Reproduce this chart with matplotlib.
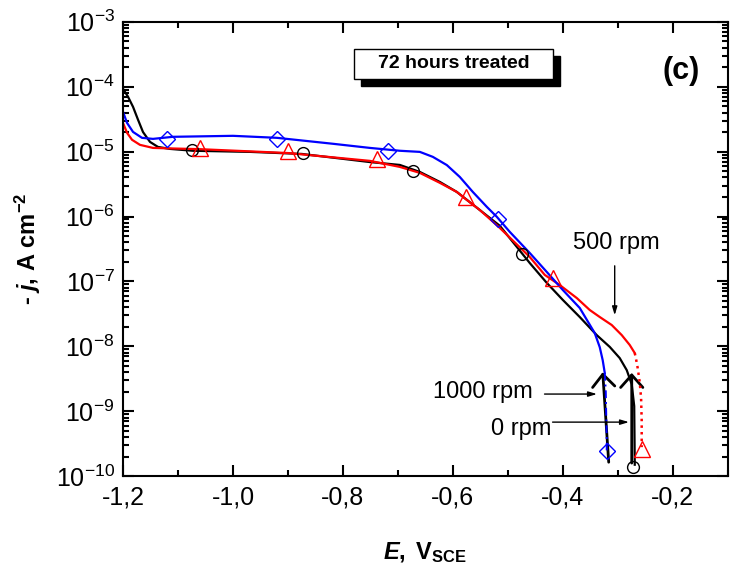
import numpy as np
import matplotlib
matplotlib.use('Agg')
import matplotlib.pyplot as plt
from matplotlib.patches import Rectangle, FancyArrowPatch
from matplotlib.ticker import MultipleLocator, LogLocator, FuncFormatter, NullFormatter

plt.rcParams['font.family'] = ['Liberation Sans', 'DejaVu Sans']
plt.rcParams['mathtext.fontset'] = 'custom'
plt.rcParams['mathtext.rm'] = 'Liberation Sans'
plt.rcParams['mathtext.it'] = 'Liberation Sans:italic'
plt.rcParams['mathtext.bf'] = 'Liberation Sans:bold'
plt.rcParams['mathtext.bfit'] = 'Liberation Sans:italic:bold'

# 0 rpm (black, circles)
E_0 = [-1.2, -1.1909, -1.1818, -1.1727, -1.1636, -1.1509, -1.1364, -1.1145, -1.0727, -0.969,
       -0.8745, -0.7509, -0.6964, -0.66, -0.6236, -0.5927, -0.5145, -0.46, -0.4291, -0.4,
       -0.3691, -0.3382, -0.3145, -0.2964, -0.2836, -0.2745, -0.2700, -0.2690]
j_0 = [9.3e-5, 7.0e-5, 4.9e-5, 3.1e-5, 2.0e-5, 1.41e-5, 1.18e-5, 1.10e-5, 1.03e-5, 9.9e-6,
       9.2e-6, 6.9e-6, 6.23e-6, 4.86e-6, 3.41e-6, 2.39e-6, 7.2e-7, 1.92e-7, 9.5e-8, 5.2e-8,
       2.83e-8, 1.49e-8, 9.8e-9, 6.6e-9, 4.3e-9, 2.6e-9, 1.2e-9, 1.5e-10]
E_0m = [-1.0745, -0.8727, -0.6727, -0.4745, -0.2727]
j_0m = [1.04e-5, 9.4e-6, 5.1e-6, 2.65e-7, 1.38e-10]

# 500 rpm (red, triangles)
E_500 = [-1.2, -1.1927, -1.1836, -1.1691, -1.1455, -1.1145, -1.06, -0.9, -0.7509, -0.6964,
         -0.66, -0.6236, -0.5927, -0.5745, -0.5509, -0.5145, -0.46, -0.4327, -0.4055, -0.3745,
         -0.3509, -0.3327, -0.3109, -0.2927, -0.2782, -0.2691]
j_500 = [2.77e-5, 1.95e-5, 1.52e-5, 1.27e-5, 1.14e-5, 1.12e-5, 1.09e-5, 9.5e-6, 7.2e-6, 5.81e-6,
         4.70e-6, 3.30e-6, 2.39e-6, 1.80e-6, 1.26e-6, 6.67e-7, 2.38e-7, 1.26e-7, 8.8e-8, 5.55e-8,
         3.63e-8, 2.83e-8, 2.13e-8, 1.49e-8, 1.05e-8, 7.9e-9]
E_500t = [-0.2691, -0.2673, -0.2636, -0.2600, -0.2575, -0.2564, -0.2564]
j_500t = [7.9e-9, 6.8e-9, 4.6e-9, 2.8e-9, 1.6e-9, 7.3e-10, 2.8e-10]
E_500m = [-1.06, -0.9, -0.7382, -0.5764, -0.4182, -0.2564]
j_500m = [1.14e-5, 1.02e-5, 7.6e-6, 2.0e-6, 1.13e-7, 2.6e-10]

# 1000 rpm (blue, diamonds)
E_1000 = [-1.2, -1.1927, -1.1818, -1.1655, -1.1455, -1.1091, -1.0, -0.92, -0.8182, -0.7509,
          -0.6964, -0.66, -0.6364, -0.6109, -0.5873, -0.5636, -0.5382, -0.52, -0.4964, -0.46,
          -0.4291, -0.4, -0.3691, -0.3418, -0.3327, -0.3273, -0.3236]
j_1000 = [4.1e-5, 2.77e-5, 2.01e-5, 1.63e-5, 1.57e-5, 1.69e-5, 1.75e-5, 1.63e-5, 1.32e-5, 1.14e-5,
          1.03e-5, 9.9e-6, 8.3e-6, 6.2e-6, 4.07e-6, 2.39e-6, 1.41e-6, 9.9e-7, 5.8e-7, 2.74e-7,
          1.40e-7, 7.4e-8, 3.9e-8, 1.60e-8, 9.7e-9, 6.1e-9, 3.9e-9]
E_1000t = [-0.3236, -0.3218, -0.32, -0.32]
j_1000t = [3.9e-9, 2.1e-9, 3.6e-10, 2.5e-10]
E_1000m = [-1.12, -0.92, -0.7182, -0.5182, -0.32]
j_1000m = [1.57e-5, 1.57e-5, 1.03e-5, 9.0e-7, 2.4e-10]

fig = plt.figure(figsize=(7.41, 5.73), dpi=100)
ax = fig.add_axes([0.166, 0.169, 0.816, 0.793])

ax.plot(E_0, j_0, color='black', lw=1.6)
ax.plot(E_500, j_500, color='red', lw=1.6)
ax.plot(E_500t, j_500t, color='red', lw=1.8, ls=':')
ax.plot(E_1000, j_1000, color='blue', lw=1.6)
ax.plot(E_1000t, j_1000t, color='blue', lw=1.4, ls=(0, (4, 2, 1, 2)))

ax.plot(E_0m, j_0m, 'o', mfc='none', mec='black', ms=8.5, mew=1)
ax.plot(E_500m, j_500m, '^', mfc='none', mec='red', ms=11, mew=1)
ax.plot(E_1000m, j_1000m, 'D', mfc='none', mec='blue', ms=8, mew=1)

ax.set_yscale('log')
ax.set_ylim(1e-10, 1e-3)
ax.set_xlim(-1.2, -0.1)
ax.yaxis.set_major_locator(LogLocator(base=10, numticks=20))
ax.yaxis.set_minor_locator(LogLocator(base=10, subs=np.arange(2, 10), numticks=20))
ax.yaxis.set_minor_formatter(NullFormatter())
ax.set_xticks([-1.2, -1.0, -0.8, -0.6, -0.4, -0.2])
ax.xaxis.set_minor_locator(MultipleLocator(0.1))
ax.xaxis.set_major_formatter(FuncFormatter(lambda v, p: f'{v:.1f}'.replace('.', ',')))

ax.tick_params(which='both', direction='in', top=True, right=True, width=1.5, labelsize=18)
ax.tick_params(which='major', length=8)
ax.tick_params(which='minor', length=4)
ax.tick_params(axis='y', pad=6)
ax.tick_params(axis='x', pad=7)
for s in ax.spines.values():
    s.set_linewidth(1.5)

ax.set_xlabel(r'$\mathbfit{E}\mathbf{,\ V_{SCE}}$', fontsize=17)
ax.xaxis.set_label_coords(0.5, -0.14)
ax.set_ylabel(r'- $\mathbfit{j}$, A $\mathbf{cm^{-2}}$', fontsize=17, fontweight='bold')
ax.yaxis.set_label_coords(-0.132, 0.5)

# title box with shadow
ax.add_patch(Rectangle((0.3934, 0.859), 0.3289, 0.066, transform=ax.transAxes,
                       facecolor='black', edgecolor='black', zorder=5))
ax.add_patch(Rectangle((0.3818, 0.8744), 0.3289, 0.0661, transform=ax.transAxes,
                       facecolor='white', edgecolor='black', lw=1, zorder=6))
ax.text(0.547, 0.9075, '72 hours treated', transform=ax.transAxes, fontsize=14,
        fontweight='bold', ha='center', va='center', zorder=7)
ax.text(0.9223, 0.892, '(c)', transform=ax.transAxes, fontsize=22,
        fontweight='bold', ha='center', va='center')

# annotations
ax.text(-0.3018, 3.9e-7, '500 rpm', fontsize=17, ha='center', va='center')
ax.annotate('', xy=(-0.3055, 2.73e-8), xytext=(-0.3055, 1.92e-7),
            arrowprops=dict(arrowstyle='-|>,head_length=0.5,head_width=0.15', color='black', lw=1))
ax.text(-0.5455, 1.97e-9, '1000 rpm', fontsize=17, ha='center', va='center')
ax.annotate('', xy=(-0.3327, 1.84e-9), xytext=(-0.4382, 1.84e-9),
            arrowprops=dict(arrowstyle='-|>,head_length=0.5,head_width=0.15', color='black', lw=1))
ax.text(-0.4764, 5.4e-10, '0 rpm', fontsize=17, ha='center', va='center')
ax.annotate('', xy=(-0.2745, 6.8e-10), xytext=(-0.4236, 6.8e-10),
            arrowprops=dict(arrowstyle='-|>,head_length=0.5,head_width=0.15', color='black', lw=1))

# big open-head arrows at the bottom
for tail, head in [((-0.3164, 1.64e-10), (-0.3273, 4.0e-9)),
                   ((-0.2745, 1.59e-10), (-0.2745, 3.9e-9))]:
    arr = FancyArrowPatch(tail, head, arrowstyle='->,head_length=0.45,head_width=0.4',
                          mutation_scale=20, color='black', lw=2, shrinkA=0, shrinkB=0)
    ax.add_patch(arr)

fig.savefig('out.png', dpi=100)
